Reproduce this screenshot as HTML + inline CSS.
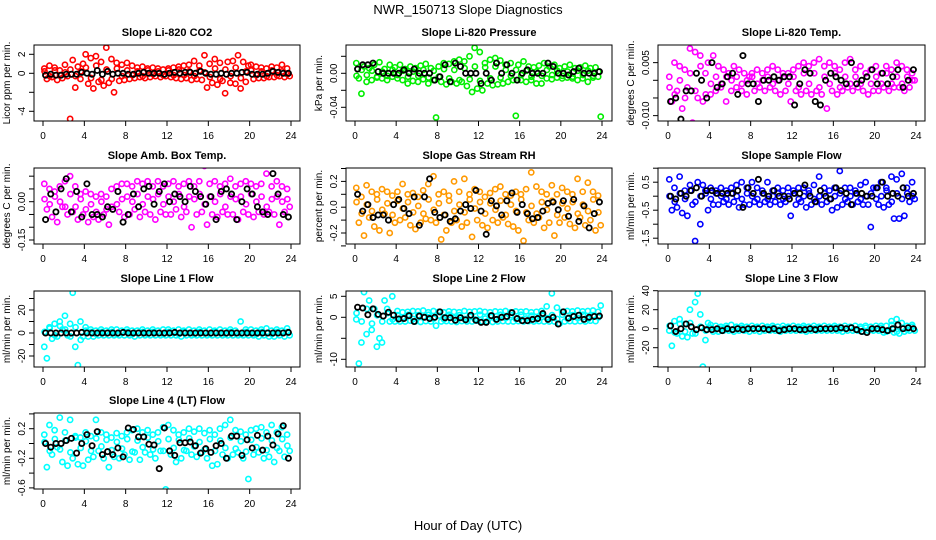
<!DOCTYPE html>
<html><head><meta charset="utf-8"><style>
html,body{margin:0;padding:0;background:#fff;}
svg{display:block;font-family:"Liberation Sans",sans-serif;}
</style></head><body>
<svg id="chart" width="936" height="540" viewBox="0 0 936 540" xmlns="http://www.w3.org/2000/svg">
<text x="468" y="14" text-anchor="middle" font-size="13">NWR_150713  Slope Diagnostics</text>
<text x="468" y="530" text-anchor="middle" font-size="13">Hour of Day (UTC)</text>
</svg>
<script>
const xTicks=[0,4,8,12,16,20,24];
const co2Col=[0.5,-0.6,0.8,-0.4,0.6,-0.7,0.3,-0.5,0.9,-0.3,-4.8,1.4,-1.5,0.7,-0.6,1.0,
2.0,-1.1,1.6,-1.6,1.8,-0.9,1.2,-1.3,2.7,-1.0,1.5,-2.0,1.1,-0.8,0.9,-0.7,
1.1,-0.6,0.8,-0.5,0.6,-0.4,0.7,-0.5,0.5,-0.4,0.6,-0.3,0.5,-0.4,0.4,-0.3,
0.5,-0.4,0.6,-0.5,0.7,-0.6,0.8,-0.5,0.9,-0.7,1.3,-0.6,0.8,-0.7,1.9,-1.5,
1.0,-1.0,1.5,-1.2,1.1,-0.8,-2.1,1.2,-1.0,1.3,-1.1,1.9,-1.6,1.2,-0.9,0.8,
0.9,-0.6,0.7,-0.5,0.6,-0.5,0.5,-0.4,0.7,-0.4,0.6,-0.3,0.9,-0.4,0.5,-0.3];
const co2In=[0.2,-0.3,0.3,-0.2,0.1,0.4,-0.3,0.2,0.6,-0.5,0.8,-0.7,0.4,-0.6,0.5,-0.3,
0.3,-0.2,0.2,-0.3,0.3,-0.1,0.2,-0.2,0.3,-0.2,0.4,-0.2,0.2,-0.3,0.3,0.1,
-0.4,0.5,-0.6,0.4,-0.3,0.6,-0.5,0.2,0.3,-0.2,0.2,-0.3,0.3,-0.2,0.2,-0.1];
const co2Blk=[-0.2,-0.1,-0.2,-0.2,-0.1,-0.1,-0.1,0.1,0.0,-0.1,0.3,-0.1,0.2,-0.1,0.0,0.0,-0.1,-0.1,0.0,0.1,0.0,0.0,0.0,-0.1,0.0,0.1,0.0,0.1,0.1,0.0,0.2,0.0,-0.1,-0.1,0.0,-0.1,0.0,0.0,0.1,0.1,-0.1,-0.1,-0.1,0.0,0.2,0.1,0.0,0.0];
const presCol=[0.012,-0.006,-0.024,0.008,-0.010,0.006,-0.008,0.010,-0.005,0.013,-0.006,0.005,-0.008,0.010,-0.004,0.007,
-0.006,0.010,-0.008,0.005,-0.012,0.008,-0.009,0.006,-0.010,0.009,-0.007,0.011,-0.012,0.006,-0.008,-0.052,
0.008,-0.010,0.012,-0.013,0.011,-0.010,0.014,-0.012,0.016,-0.010,0.014,-0.015,0.020,-0.022,0.030,-0.018,
0.025,-0.020,0.012,-0.012,0.016,-0.014,0.018,-0.013,0.015,-0.012,0.010,-0.010,0.012,-0.008,-0.050,0.010,
-0.008,0.014,-0.010,0.008,-0.008,0.007,-0.012,0.009,-0.012,0.012,-0.006,0.008,-0.007,0.010,-0.005,0.006,
-0.006,0.008,-0.005,0.010,-0.006,0.006,-0.008,0.007,-0.006,0.009,-0.010,0.006,-0.005,0.007,-0.004,-0.051];
const presIn=[-0.003,0.004,-0.002,0.003,-0.004,0.002,-0.003,0.004,-0.002,0.003,-0.004,0.002,
-0.003,0.004,-0.005,0.003,-0.004,0.005,-0.006,0.004,-0.008,0.006,-0.007,0.008,
-0.009,0.007,-0.006,0.008,-0.005,0.004,-0.003,0.004,-0.002,0.003,-0.004,0.002,
-0.003,0.004,-0.002,0.003,-0.003,0.002,-0.004,0.003,-0.002,0.003,-0.003,0.002];
const presBlk=[0.005,0.01,0.01,0.012,0.002,0.0,0.0,0.0,0.0,0.004,0.0,0.005,0.0,0.0,0.0,-0.008,-0.004,0.01,-0.01,0.012,0.008,0.0,0.0,0.0,-0.012,0.0,-0.008,0.012,0.0,0.010,0.0,-0.008,0.0,0.004,0.0,0.0,0.0,0.012,0.008,0.0,0.0,-0.002,0.002,0.006,0.0,0.0,0.0,0.002];
const tempCol=[0.001,-0.006,0.005,-0.003,0.004,-0.008,0.003,-0.002,0.009,-0.012,0.008,-0.005,0.007,-0.006,0.002,0.005,
-0.004,0.007,-0.003,0.004,-0.002,0.003,-0.006,0.002,-0.003,0.004,-0.002,0.003,-0.003,0.002,-0.004,0.001,
0.002,-0.003,0.003,-0.002,0.002,-0.003,0.003,-0.002,0.004,-0.003,0.003,-0.004,0.002,-0.003,0.002,-0.006,
0.003,-0.003,0.004,-0.004,0.005,-0.003,0.004,-0.004,0.005,-0.003,0.006,-0.004,0.004,-0.008,0.005,-0.003,
0.004,-0.004,0.003,-0.003,0.005,-0.002,0.006,-0.003,0.003,-0.002,0.004,-0.003,0.002,-0.004,0.003,-0.003,
0.004,-0.003,0.002,-0.002,0.004,-0.003,0.003,-0.002,0.005,-0.002,0.004,-0.003,0.003,-0.002,0.002,0.000];
const tempIn=[-0.002,-0.004,0.000,-0.005,0.002,-0.003,0.004,-0.004,-0.001,0.001,-0.001,0.001,
0.000,0.001,-0.001,0.000,0.001,-0.001,0.000,0.001,-0.001,0.000,0.001,-0.001,
0.001,-0.002,0.002,-0.001,0.002,-0.002,0.001,-0.001,0.002,-0.002,0.001,-0.001,
0.001,-0.001,0.002,-0.001,0.001,-0.001,0.002,-0.001,0.001,-0.001,0.001,0.000];
const tempBlk=[-0.006,-0.005,-0.011,-0.003,-0.003,0.002,0.0,-0.005,0.005,-0.002,-0.001,0.001,0.002,-0.004,0.007,-0.001,-0.001,-0.006,0.0,0.0,0.001,0.0,0.001,0.001,-0.007,-0.001,0.003,0.002,-0.006,-0.007,0.0,0.002,0.001,0.0,-0.001,0.005,-0.001,0.0,0.001,0.003,-0.001,0.002,-0.001,0.001,0.003,-0.002,0.0,0.003];
const ambCol=[0.07,-0.03,0.05,-0.06,0.04,-0.08,0.06,-0.02,0.08,-0.05,0.10,-0.04,0.06,-0.07,0.03,-0.05,
0.04,-0.08,0.03,-0.06,0.02,-0.07,0.03,-0.05,0.02,-0.09,0.05,-0.19,0.06,-0.04,0.07,-0.06,
0.07,-0.05,0.06,-0.03,0.08,-0.06,0.07,-0.04,0.08,-0.05,0.06,-0.07,0.08,-0.04,0.06,-0.05,
0.07,-0.05,0.08,-0.03,0.06,-0.06,0.07,-0.04,0.08,-0.10,0.06,-0.05,0.08,-0.04,0.14,-0.09,
0.07,-0.05,0.08,-0.06,0.06,-0.04,0.07,-0.05,0.09,-0.05,0.06,-0.07,0.07,-0.04,0.08,-0.05,
0.07,-0.06,0.06,-0.04,0.07,-0.05,0.11,-0.04,0.06,-0.05,0.08,-0.09,0.06,-0.04,0.05,-0.02];
const ambIn=[0.01,-0.01,0.02,0.00,-0.02,0.03,-0.02,0.01,-0.03,-0.01,-0.04,0.00,-0.03,-0.02,-0.01,0.01,
0.02,0.00,0.03,-0.01,0.02,0.01,0.03,-0.01,0.02,0.00,0.03,-0.02,0.02,0.01,0.03,-0.01,
0.02,0.00,0.03,-0.02,0.02,0.01,0.02,-0.01,0.03,0.00,0.02,-0.02,0.01,0.02,0.00,0.01];
const ambBlk=[-0.07,0.03,-0.04,0.05,0.09,-0.04,0.04,-0.06,0.07,-0.05,-0.05,-0.06,-0.02,-0.03,0.04,-0.08,-0.05,0.03,-0.02,0.05,0.06,-0.01,0.04,0.07,0.0,0.03,0.02,0.0,0.06,0.04,0.02,-0.01,0.02,-0.07,0.04,0.05,0.03,-0.07,0.0,0.05,0.03,-0.02,-0.04,-0.05,0.11,0.03,-0.05,-0.06];
const rhCol=[0.15,-0.12,0.08,-0.22,0.17,-0.08,0.12,-0.15,0.10,-0.18,0.14,-0.05,0.12,-0.20,0.09,-0.12,
0.12,-0.10,0.18,-0.08,0.10,-0.14,0.11,-0.17,0.08,-0.12,0.13,-0.09,0.18,-0.10,0.24,-0.12,
0.10,-0.25,0.12,-0.18,0.09,-0.12,0.20,-0.10,0.12,-0.15,0.22,-0.12,0.10,-0.23,0.14,-0.10,
0.12,-0.14,0.08,-0.16,0.11,-0.10,0.14,-0.12,0.16,-0.08,0.10,-0.13,0.09,-0.15,0.12,-0.18,
0.10,-0.26,0.14,-0.10,0.27,-0.12,0.16,-0.08,0.12,-0.16,0.10,-0.12,0.17,-0.22,0.10,-0.12,
0.15,-0.08,0.12,-0.13,0.10,-0.16,0.22,-0.08,0.12,-0.14,0.19,-0.10,0.12,-0.18,0.09,-0.14];
const rhIn=[0.04,-0.05,0.02,-0.03,0.06,-0.02,0.03,-0.06,0.05,-0.01,0.04,-0.04,0.01,-0.05,0.06,-0.02,
0.03,-0.06,0.05,-0.03,0.02,-0.04,0.06,-0.01,0.04,-0.05,0.03,-0.02,0.05,-0.06,0.02,-0.03,
0.06,-0.04,0.01,-0.05,0.04,-0.02,0.05,-0.06,0.03,-0.01,0.04,-0.05,0.02,-0.03,0.06,-0.04];
const rhBlk=[0.10,-0.03,0.02,-0.08,-0.06,-0.06,-0.10,0.02,0.06,-0.01,-0.05,0.08,-0.14,0.08,0.22,-0.04,-0.08,-0.06,-0.11,-0.09,-0.03,0.02,-0.01,0.13,-0.03,-0.21,0.05,0.01,-0.06,0.05,0.11,-0.04,0.02,-0.05,-0.09,-0.08,-0.03,0.03,0.04,-0.02,0.05,-0.07,0.06,-0.11,0.01,-0.16,-0.05,0.04];
const flowCol=[0.6,-0.5,0.3,-0.4,0.7,-0.6,0.2,-0.7,0.4,-0.3,-1.6,0.5,-1.0,0.4,0.2,-0.5,
0.3,-0.3,0.2,-0.3,0.3,-0.2,0.2,-0.3,0.3,-0.2,0.4,-0.4,0.5,-0.3,0.3,-0.3,
0.5,-0.2,0.3,-0.3,0.2,-0.2,0.5,-0.3,0.2,-0.2,0.3,-0.3,0.2,-0.2,0.3,-0.7,
0.2,-0.3,0.3,-0.2,0.3,-0.4,0.2,-0.3,0.4,-0.2,0.7,-0.3,0.3,-0.2,0.2,-0.5,
0.3,-0.4,0.9,-0.3,0.3,-0.2,0.3,-0.3,0.2,-0.2,0.4,-0.3,0.5,-0.3,-1.1,0.3,
0.3,-0.3,0.5,-0.4,0.3,-0.3,0.7,-0.8,0.6,-0.8,0.8,-0.7,0.3,-0.2,0.5,-0.1];
const flowIn=[0.0,-0.2,0.1,-0.1,0.2,-0.2,0.0,0.1,-0.1,0.1,0.0,-0.1,0.1,0.0,-0.1,0.1,
0.0,-0.1,0.1,-0.1,0.0,0.1,-0.1,0.0,0.1,-0.1,0.0,0.1,-0.1,0.0,0.1,-0.1,
0.0,0.1,-0.1,0.0,0.1,-0.1,0.0,0.1,-0.1,0.0,0.2,-0.2,0.1,-0.1,0.1,0.0];
const flowBlk=[0.0,-0.1,0.1,0.0,0.2,0.3,0.0,0.2,0.2,0.1,0.1,0.1,0.1,0.2,-0.4,0.3,0.1,0.6,0.1,0.0,0.2,0.0,0.0,-0.1,0.1,0.1,0.4,0.0,-0.2,0.2,0.0,-0.1,0.3,0.2,0.1,-0.3,0.1,0.1,0.0,0.0,0.3,0.5,0.0,0.1,0.0,0.3,0.0,0.1];
const l1Col=[-12,-22,5,-5,8,-3,10,3,15,-2,8,35,-12,-28,10,-3,
5,-3,3,-3,2,-2,3,-2,2,-2,3,-2,3,-2,2,-2,
3,-2,2,-3,2,-2,3,-2,2,-2,3,-2,2,-2,3,-2,
3,-2,2,-2,3,-3,2,-2,3,-2,2,-2,3,-2,2,-2,
3,-2,2,-2,3,-2,2,-2,3,-2,2,-2,10,-2,3,-2,
3,-2,2,-3,3,-2,4,-3,2,-3,3,-2,2,-3,4,-2];
const l1In=[1,4,-2,6,3,-3,5,-6,2,1,-1,1,0,1,-1,0,1,-1,0,1,-1,1,0,-1,1,0,-1,1,0,-1,1,0,-1,1,0,-1,1,0,-1,1,0,-1,1,0,-1,1,0,1];
const l1Blk=[0,0,0,0,0,0,0,0.5,0,0,0,0,0,0,0,0.5,0,0,0,0,0,0,0,0,0,0.5,0,0,0,0,0,0,0,0,0,0,0,0,0,0,0,0,0,0,0,0,0,0.5];
const l2Col=[-0.5,-11,-6,6,-4,4,-3,2,-7,-5,-6,4,2,-1,5,-1,
1.5,-1,1.2,-1,1.3,-0.8,1.5,-1,1.4,-1.1,1.6,-0.9,1.2,-1,1.5,-2,
1.3,-1,1.2,-0.9,1.4,-1,1.3,-1.1,1.2,-0.9,1.5,-1,1.3,-1,1.4,-0.8,
1.5,-1,1.3,-0.9,1.2,-1.1,1.4,-1,1.3,-0.9,1.5,-1,1.2,-1,1.4,-0.9,
1.3,-1,1.4,-0.9,1.2,-1,1.3,-0.9,1.5,-1,2.6,-1,5.7,-1,2.3,-1.5,
1.3,-1,1.5,-0.9,1.4,-1,1.6,-0.9,1.4,-1,1.5,-0.8,1.6,-0.9,1.3,2.8];
const l2In=[1,-1,2,-1.5,0.5,-1,1,-0.5,0.5,-0.3,0.6,-0.4,0.5,0.0,0.6,-0.3,0.4,-0.5,0.6,-0.2,0.5,-0.4,0.3,-0.5,
0.6,-0.3,0.4,-0.5,0.6,-0.2,0.5,-0.4,0.6,-0.3,0.4,-0.5,0.6,-0.2,0.5,-0.4,0.6,-0.3,0.5,-0.2,0.6,-0.4,0.5,0.0];
const l2Blk=[2.4,2.2,0.6,2.0,0.7,0.3,1.2,0.5,-0.4,-0.3,0.4,-1.0,0.3,0.0,-0.3,0.0,1.3,-0.1,-0.1,-0.7,-0.1,-0.6,0.5,-0.7,-1.2,-1.2,0.4,-0.5,0.0,0.2,1.1,-0.3,-0.8,-0.8,-0.5,-0.3,0.9,-0.5,0.0,-1.6,1.3,-0.2,0.2,0.5,-0.5,0.0,0.2,0.3];
const l3Col=[-2,-18,8,-5,10,-8,5,-9,20,-5,28,37,15,-40,-12,6,
4,-3,3,-3,2,-2,3,-2,4,-3,2,-2,3,-2,2,-3,
3,-2,2,-3,3,-2,2,-2,3,-2,2,-3,3,-2,2,-2,
3,-2,2,-2,3,-3,2,-2,3,-2,2,-2,3,-2,2,-2,
3,-2,2,-3,3,-2,2,-2,3,-2,2,-3,3,-2,2,-2,
3,-2,3,-4,3,-2,8,-4,10,-5,6,-3,3,-2,4,-2];
const l3In=[3,-4,5,-3,6,-5,2,-2,1,-1,0,1,-1,0,1,-1,0,1,-1,0,1,-1,0,1,-1,0,1,-1,0,1,-1,0,1,-1,0,1,-1,0,1,-1,0,1,-3,4,-3,1,-1,2];
const l3Blk=[3,-3,0,5,2,-1,1,-1,-1,0,-2,0,-1,0,-1,0,0,0,0,-1,0,-2,-1,0,0,-1,-1,0,-1,0,0,0,0,1,0,1,-1,-3,-4,0,0,-1,-2,0,4,0,1,0];
const l4Col=[0.12,-0.32,0.25,-0.15,0.18,-0.05,0.35,-0.25,0.15,-0.30,0.32,-0.2,0.10,-0.28,0.08,-0.30,
0.15,-0.22,0.10,-0.18,0.32,-0.1,0.15,-0.2,0.12,-0.32,0.08,-0.18,0.14,-0.2,0.1,-0.15,
0.15,-0.22,0.18,-0.12,0.2,-0.22,0.15,-0.12,0.18,-0.15,0.12,-0.2,0.15,-0.1,0.22,-0.62,
0.25,-0.15,0.18,-0.25,0.12,-0.2,0.15,-0.1,0.2,-0.15,0.16,-0.18,0.2,-0.12,0.14,-0.2,
0.18,-0.3,0.12,-0.28,0.2,-0.15,0.25,-0.2,0.32,-0.15,0.18,-0.12,0.16,-0.2,0.12,-0.48,
0.18,-0.15,0.2,-0.12,0.22,-0.2,0.15,-0.18,0.25,-0.25,0.15,-0.1,0.22,-0.18,0.12,-0.1];
const l4In=[0.02,-0.10,0.06,-0.08,0.04,-0.12,0.08,-0.06,0.03,-0.10,0.07,-0.04,0.05,-0.09,0.02,-0.07,
0.06,-0.11,0.04,-0.05,0.08,-0.08,0.03,-0.10,0.06,-0.06,0.05,-0.09,0.07,-0.04,0.02,-0.08,
0.06,-0.10,0.04,-0.06,0.08,-0.07,0.03,-0.11,0.05,-0.05,0.07,-0.09,0.04,-0.06,0.06,-0.03];
const l4Blk=[0.0,-0.05,0.0,0.0,0.04,0.07,-0.13,0.0,0.12,-0.03,0.16,-0.15,-0.11,-0.15,-0.06,-0.18,0.21,0.19,0.09,0.09,-0.01,-0.02,-0.34,0.21,-0.10,-0.16,0.01,0.01,0.02,-0.03,-0.13,-0.07,-0.12,-0.03,0.0,-0.20,0.10,0.10,-0.16,0.05,-0.06,0.11,-0.09,0.10,-0.02,0.13,0.24,-0.20];

const NS='http://www.w3.org/2000/svg';
const svg=document.getElementById('chart');
const colX=[[34,300,43,291],[346,612,355,602],[658,925,668,916]];
const rowY=[45,168,291,413];
const panels=[
 {name:'co2',title:'Slope Li-820 CO2',ylab:'Licor ppm per min.',c:0,r:0,zero:73.3,k:9.5,ticks:[-4,-2,0,2],labs:['-4','','0','2'],col:'#ff0000',cd:co2Col,id:co2In,bd:co2Blk},
 {name:'pressure',title:'Slope Li-820 Pressure',ylab:'kPa per min.',c:1,r:0,zero:73.3,k:850,ticks:[-0.04,-0.02,0,0.02],labs:['-0.04','','0.00',''],col:'#00ee00',cd:presCol,id:presIn,bd:presBlk},
 {name:'temp',title:'Slope Li-820 Temp.',ylab:'degrees C per min.',c:2,r:0,zero:80.3,k:3533,ticks:[-0.01,-0.005,0,0.005],labs:['-0.010','','','0.005'],col:'#ff00ff',cd:tempCol,id:tempIn,bd:tempBlk},
 {name:'amb-temp',title:'Slope Amb. Box Temp.',ylab:'degrees C per min.',c:0,r:1,zero:201.7,k:255.3,ticks:[-0.15,-0.1,-0.05,0,0.05,0.1],labs:['-0.15','','','0.00','',''],col:'#ff00ff',cd:ambCol,id:ambIn,bd:ambBlk},
 {name:'rh',title:'Slope Gas Stream RH',ylab:'percent per min.',c:1,r:1,zero:207.2,k:129,ticks:[-0.3,-0.2,-0.1,0,0.1,0.2,0.3],labs:['','-0.2','','0.0','','0.2',''],col:'#ff9900',cd:rhCol,id:rhIn,bd:rhBlk},
 {name:'sample-flow',title:'Slope Sample Flow',ylab:'ml/min per min.',c:2,r:1,zero:196.2,k:28,ticks:[-1.5,-1,-0.5,0,0.5,1],labs:['-1.5','','-0.5','','0.5',''],col:'#0000ff',cd:flowCol,id:flowIn,bd:flowBlk},
 {name:'line1',title:'Slope Line 1 Flow',ylab:'ml/min per min.',c:0,r:2,zero:333,k:1.15,ticks:[-20,-10,0,10,20,30],labs:['-20','','0','','20',''],col:'#00ffff',cd:l1Col,id:l1In,bd:l1Blk},
 {name:'line2',title:'Slope Line 2 Flow',ylab:'ml/min per min.',c:1,r:2,zero:317.3,k:4.2,ticks:[-10,-5,0,5],labs:['-10','','0','5'],col:'#00ffff',cd:l2Col,id:l2In,bd:l2Blk},
 {name:'line3',title:'Slope Line 3 Flow',ylab:'ml/min per min.',c:2,r:2,zero:328.7,k:0.95,ticks:[-40,-20,0,20,40],labs:['','-20','0','20','40'],col:'#00ffff',cd:l3Col,id:l3In,bd:l3Blk},
 {name:'line4',title:'Slope Line 4 (LT) Flow',ylab:'ml/min per min.',c:0,r:3,zero:443.5,k:74,ticks:[-0.6,-0.4,-0.2,0,0.2,0.4],labs:['-0.6','','-0.2','','0.2',''],col:'#00ffff',cd:l4Col,id:l4In,bd:l4Blk}
];
function mk(tag,attrs,parent){const e=document.createElementNS(NS,tag);for(const k in attrs)e.setAttribute(k,attrs[k]);(parent||svg).appendChild(e);return e;}
panels.forEach(p=>{
 const [bl,br,x0,x24]=colX[p.c];const bt=rowY[p.r],bb=bt+76;
 const xs=h=>x0+(x24-x0)*h/24;
 const ys=v=>p.zero-v*p.k;
 const g=mk('g',{});
 
 
 const t=mk('text',{x:(bl+br)/2,y:bt-9,'text-anchor':'middle','font-size':'11','font-weight':'bold'},g);
 
 
 t.textContent=p.title;
 const yl=mk('text',{x:0,y:0,'text-anchor':'middle','font-size':'10',transform:`translate(${bl-24},${(bt+bb)/2}) rotate(-90)`},g);
 
 
 yl.textContent=p.ylab;
 const clip=mk('clipPath',{id:'cl'+p.name},g);
 mk('rect',{x:bl,y:bt,width:br-bl,height:bb-bt},clip);
 const pts=mk('g',{'clip-path':`url(#cl${p.name})`,fill:'none'},g);
 p.cd.forEach((v,i)=>{
  const c=mk('circle',{cx:xs((i+0.5)*0.25),cy:ys(v),r:2.6,stroke:p.col,'stroke-width':1.6},pts);
  
  
 });
 p.id.forEach((v,i)=>{
  const c=mk('circle',{cx:xs((i+0.3)*0.5),cy:ys(v),r:2.6,stroke:p.col,'stroke-width':1.6},pts);
  
  
 });
 p.bd.forEach((v,i)=>{
  const c=mk('circle',{cx:xs((i+0.5)*0.5),cy:ys(v),r:2.6,stroke:'#000','stroke-width':1.8},pts);
  
  
 });
 const box=mk('rect',{x:bl,y:bt,width:br-bl,height:bb-bt,fill:'none',stroke:'#000','stroke-width':1},g);
 
 
 xTicks.forEach(h=>{
  mk('line',{x1:xs(h),x2:xs(h),y1:bb,y2:bb+5,stroke:'#000'},g);
  const tl=mk('text',{x:xs(h),y:bb+18,'text-anchor':'middle','font-size':'10'},g);
  
  
  tl.textContent=h;
 });
 p.ticks.forEach((v,i)=>{
  mk('line',{x1:bl-5,x2:bl,y1:ys(v),y2:ys(v),stroke:'#000'},g);
  if(p.labs[i]){
   const tl=mk('text',{x:0,y:0,'text-anchor':'middle','font-size':'10',transform:`translate(${bl-9},${ys(v)}) rotate(-90)`},g);
   
   
   tl.textContent=p.labs[i];
  }
 });
});
</script>
</body></html>
